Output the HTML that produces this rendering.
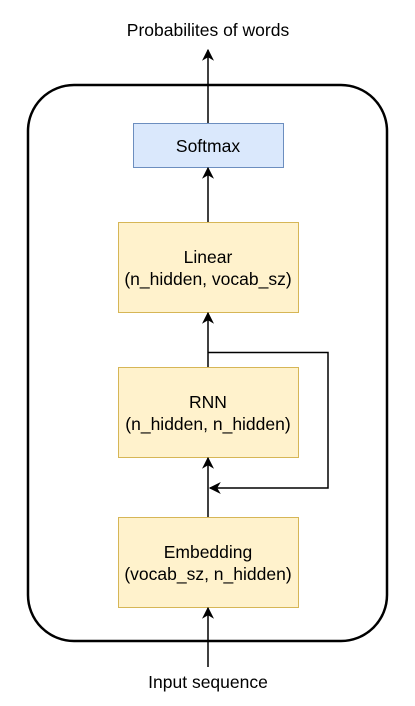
<!DOCTYPE html>
<html><head><meta charset="utf-8"><style>
html,body{margin:0;padding:0;background:#fff;}
svg{display:block;}
text{font-family:"Liberation Sans",Arial,sans-serif;font-size:17.5px;fill:#000;text-anchor:middle;}
</style></head><body>
<svg width="415" height="706" viewBox="0 0 415 706">
<defs>
<marker id="a" viewBox="0 0 10 10" refX="9" refY="5" markerWidth="12" markerHeight="12" markerUnits="userSpaceOnUse" orient="auto">
<path d="M0,0 L10,5 L0,10 L3,5 Z" fill="#000"/>
</marker>
</defs>
<rect x="28" y="85" width="359" height="556" rx="46" ry="46" fill="#fff" stroke="#000" stroke-width="2.5"/>
<text x="208" y="36">Probabilites of words</text>
<line x1="208" y1="123" x2="208" y2="50" stroke="#000" stroke-width="1.5" marker-end="url(#a)"/>
<rect x="133.5" y="123.5" width="150" height="44" fill="#dae8fc" stroke="#6c8ebf"/>
<text x="208" y="152">Softmax</text>
<line x1="208" y1="222" x2="208" y2="168" stroke="#000" stroke-width="1.5" marker-end="url(#a)"/>
<rect x="118.5" y="222.5" width="180" height="90" fill="#fff2cc" stroke="#d6b656"/>
<text x="208" y="263">Linear</text>
<text x="208" y="285">(n_hidden, vocab_sz)</text>
<line x1="208" y1="367" x2="208" y2="313" stroke="#000" stroke-width="1.5" marker-end="url(#a)"/>
<polyline points="208,352.5 328,352.5 328,488 210,488" fill="none" stroke="#000" stroke-width="1.5" marker-end="url(#a)"/>
<rect x="118.5" y="367.5" width="180" height="90" fill="#fff2cc" stroke="#d6b656"/>
<text x="208" y="408">RNN</text>
<text x="208" y="430">(n_hidden, n_hidden)</text>
<line x1="208" y1="517" x2="208" y2="458" stroke="#000" stroke-width="1.5" marker-end="url(#a)"/>
<rect x="118.5" y="517.5" width="180" height="90" fill="#fff2cc" stroke="#d6b656"/>
<text x="208" y="558">Embedding</text>
<text x="208" y="580">(vocab_sz, n_hidden)</text>
<line x1="208" y1="667" x2="208" y2="608" stroke="#000" stroke-width="1.5" marker-end="url(#a)"/>
<text x="208" y="688">Input sequence</text>
</svg>
</body></html>
